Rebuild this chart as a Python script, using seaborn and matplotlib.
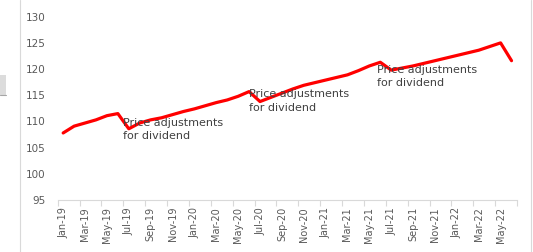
import matplotlib
matplotlib.use("Agg")
import matplotlib.pyplot as plt
import seaborn as sns
import pandas as pd
import numpy as np
from matplotlib.lines import Line2D
from matplotlib.patches import Rectangle

months = ["Jan-19","Feb-19","Mar-19","Apr-19","May-19","Jun-19","Jul-19","Aug-19","Sep-19","Oct-19","Nov-19","Dec-19",
          "Jan-20","Feb-20","Mar-20","Apr-20","May-20","Jun-20","Jul-20","Aug-20","Sep-20","Oct-20","Nov-20","Dec-20",
          "Jan-21","Feb-21","Mar-21","Apr-21","May-21","Jun-21","Jul-21","Aug-21","Sep-21","Oct-21","Nov-21","Dec-21",
          "Jan-22","Feb-22","Mar-22","Apr-22","May-22","Jun-22"]
values = [107.8,109.1,109.7,110.3,111.1,111.5,108.6,109.7,110.3,110.7,111.3,111.9,
          112.4,113.0,113.6,114.1,114.8,115.7,113.8,114.6,115.4,116.2,116.9,117.4,
          117.9,118.4,118.9,119.7,120.6,121.3,119.8,120.2,120.6,121.1,121.6,122.1,
          122.6,123.1,123.6,124.3,125.0,121.6]
annot_text = "Price adjustments\nfor dividend"
annot_x = [5.5, 17.0, 28.7]
annot_y = [110.7, 116.2, 120.8]
yticks = [95, 100, 105, 110, 115, 120, 125, 130]

sns.set_theme(style="white")
plt.rcParams['font.family'] = ['DejaVu Sans']

df = pd.DataFrame({"x": np.arange(len(months)), "v": values})

fig = plt.figure(figsize=(5.33, 2.52), dpi=100)
ax = fig.add_axes([57.7/533, 1-200/252, (517-57.7)/533, (200-16.7)/252])
sns.lineplot(data=df, x="x", y="v", ax=ax, color="#FF0000", linewidth=2.3)

ax.set_xlim(-0.5, len(months)-0.5)
ax.set_ylim(95, 130)
ax.set_yticks(yticks)
ax.set_yticklabels([str(t) for t in yticks], color="#595959", fontsize=7.5)
ax.set_xticks(np.arange(0, len(months), 2))
ax.set_xticklabels(months[::2], rotation=90, color="#595959", fontsize=7)
ax.set_xticks(np.arange(-0.5, len(months), 2), minor=True)
ax.tick_params(axis="y", length=0, pad=9)
ax.tick_params(axis="x", which="major", length=0, pad=5)
ax.tick_params(axis="x", which="minor", length=4, width=0.8, color="#d9d9d9", bottom=True)
ax.set_xlabel("")
ax.set_ylabel("")
for s in ["top", "right", "left"]:
    ax.spines[s].set_visible(False)
ax.spines["bottom"].set_color("#d9d9d9")
ax.spines["bottom"].set_linewidth(0.8)
ax.grid(False)

for x, y in zip(annot_x, annot_y):
    ax.text(x, y, annot_text, fontsize=8, color="#404040", va="top", ha="left", linespacing=1.45)

# chart frame edges
fig.add_artist(Line2D([20/533, 20/533], [0, 1], color="#d9d9d9", linewidth=0.8))
fig.add_artist(Line2D([531/533, 531/533], [0, 1], color="#d9d9d9", linewidth=0.8))
fig.add_artist(Rectangle((0, 1-95/252), 6/533, 20/252, facecolor="#dcdcdc", edgecolor="none"))
fig.add_artist(Line2D([0, 6/533], [1-95/252, 1-95/252], color="#a6a6a6", linewidth=0.8))

fig.savefig("out.png", dpi=100)
